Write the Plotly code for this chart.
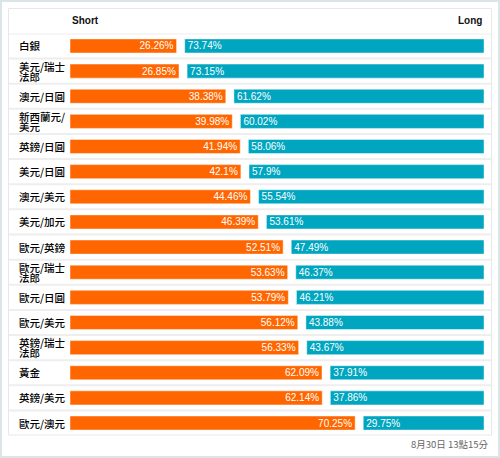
import plotly.graph_objects as go

categories = ["白銀", "美元/瑞士\n法郎", "澳元/日圓", "新西蘭元/\n美元", "英鎊/日圓", "美元/日圓",
              "澳元/美元", "美元/加元", "歐元/英鎊", "歐元/瑞士\n法郎", "歐元/日圓", "歐元/美元",
              "英鎊/瑞士\n法郎", "黃金", "英鎊/美元", "歐元/澳元"]
short_pct = [26.26, 26.85, 38.38, 39.98, 41.94, 42.1, 44.46, 46.39, 52.51, 53.63, 53.79, 56.12,
             56.33, 62.09, 62.14, 70.25]
long_pct = [73.74, 73.15, 61.62, 60.02, 58.06, 57.9, 55.54, 53.61, 47.49, 46.37, 46.21, 43.88,
            43.67, 37.91, 37.86, 29.75]
header_left = "Short"
header_right = "Long"
footer = "8月30日 13點15分"

W, H = 500, 458
ORANGE = "#ff6600"
TEAL = "#00a6c0"
GAP = 2.0  # gap between the two bars, in percent units
n = len(categories)
ids = list(range(n))

def fmt(v):
    return ("%g" % v) + "%"

fig = go.Figure()
fig.add_trace(go.Bar(
    y=ids, x=short_pct, base=0, orientation="h", width=0.56,
    marker=dict(color=ORANGE, line=dict(color="rgba(255,255,255,0.45)", width=1)),
    text=[fmt(v) for v in short_pct], textposition="inside", insidetextanchor="end",
    textfont=dict(color="white", size=10, family="Liberation Sans, Arial"),
    textangle=0, hoverinfo="skip", showlegend=False,
))
fig.add_trace(go.Bar(
    y=ids, x=long_pct, base=[s + GAP for s in short_pct], orientation="h", width=0.56,
    marker=dict(color=TEAL, line=dict(color="rgba(255,255,255,0.45)", width=1)),
    text=[fmt(v) for v in long_pct], textposition="inside", insidetextanchor="start",
    textfont=dict(color="white", size=10, family="Liberation Sans, Arial"),
    textangle=0, hoverinfo="skip", showlegend=False,
))

def px_x(p):
    return p / W

def px_y(p):
    return 1 - p / H

y_top, y_bot = 33.4, 435.6
fig.update_layout(
    width=W, height=H, margin=dict(l=0, r=0, t=0, b=0),
    paper_bgcolor="white", plot_bgcolor="white",
    barmode="overlay",
    uniformtext=dict(minsize=10, mode="show"),
    xaxis=dict(domain=[px_x(70), px_x(484)], range=[0, 100 + GAP], visible=False, fixedrange=True),
    yaxis=dict(domain=[px_y(y_bot), px_y(y_top)], range=[n - 0.5, -0.5], visible=False, fixedrange=True),
    font=dict(family="Liberation Sans, Arial, sans-serif"),
)

shapes = []
# outer page frame
shapes.append(dict(type="rect", xref="paper", yref="paper", x0=px_x(1), x1=px_x(499), y0=px_y(457), y1=px_y(1),
                   line=dict(color="#dbe5e7", width=2), layer="below"))
# inner table box
shapes.append(dict(type="rect", xref="paper", yref="paper", x0=px_x(8.5), x1=px_x(491.5), y0=px_y(435), y1=px_y(8.5),
                   line=dict(color="#e8e8e8", width=1), layer="below"))
# row separators
for i in range(n):
    shapes.append(dict(type="line", xref="paper", yref="y", x0=px_x(9), x1=px_x(491), y0=i - 0.5, y1=i - 0.5,
                       line=dict(color="#eeeeee", width=2), layer="below"))
fig.update_layout(shapes=shapes)

annotations = []
label_font = dict(family="Noto Sans CJK TC, Noto Sans CJK SC, sans-serif", size=10.5, color="#000000",
                  weight=500)
for i, c in enumerate(categories):
    lines = c.split("\n")
    if len(lines) == 1:
        annotations.append(dict(xref="paper", yref="y", x=px_x(17), y=i, text=lines[0], showarrow=False,
                                xanchor="left", yanchor="middle", font=label_font))
    else:
        for k, ln in enumerate(lines):
            annotations.append(dict(xref="paper", yref="y", x=px_x(17), y=i, text=ln, showarrow=False,
                                    xanchor="left", yanchor="middle", font=label_font,
                                    yshift=5 - 10 * k))
hdr_font = dict(family="Liberation Sans, Arial", size=10, color="#111111")
annotations.append(dict(xref="paper", yref="paper", x=px_x(70), y=px_y(20.5), text="<b>%s</b>" % header_left,
                        showarrow=False, xanchor="left", yanchor="middle", font=hdr_font))
annotations.append(dict(xref="paper", yref="paper", x=px_x(484), y=px_y(20.5), text="<b>%s</b>" % header_right,
                        showarrow=False, xanchor="right", yanchor="middle", font=hdr_font))
annotations.append(dict(xref="paper", yref="paper", x=px_x(491), y=px_y(444), text=footer,
                        showarrow=False, xanchor="right", yanchor="middle",
                        font=dict(family="Noto Sans CJK TC, sans-serif", size=9.5, color="#666666")))
fig.update_layout(annotations=annotations)

fig.write_html("out.html", config={"displayModeBar": False, "staticPlot": True},
               post_script="document.body.style.margin='0';document.body.style.overflow='hidden';")
